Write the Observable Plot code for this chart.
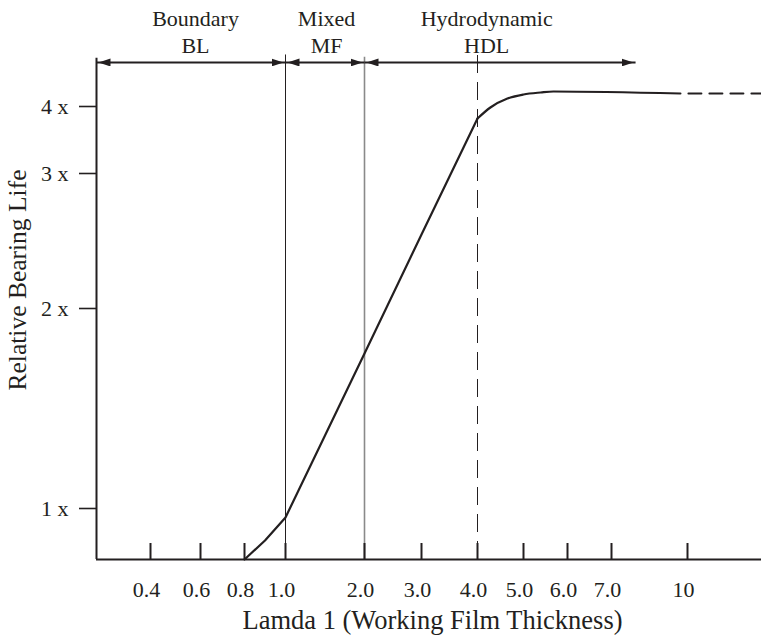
<!DOCTYPE html>
<html>
<head>
<meta charset="utf-8">
<script src="https://cdn.jsdelivr.net/npm/d3@7"></script>
<script src="https://cdn.jsdelivr.net/npm/@observablehq/plot@0.6"></script>
<style>
  body { margin: 0; background: #fff; }
</style>
</head>
<body>
<div id="chart"></div>
<script>
// ---- data ----
const xTickValues = [0.4, 0.6, 0.8, 1, 2, 3, 4, 5, 6, 7, 10];
const xTickLabels = ["0.4", "0.6", "0.8", "1.0", "2.0", "3.0", "4.0", "5.0", "6.0", "7.0", "10"];
const yTickValues = [1, 2, 3, 4];
const yTickLabels = ["1 x", "2 x", "3 x", "4 x"];

// relative bearing life vs lamda (working film thickness)
const rampLamda = [0.8, 0.9, 1.0, 2.0, 3.0, 4.0];
const rampLife  = [0.75, 0.843, 0.956, 1.775, 2.548, 3.821];
const arcLamda  = [4.0, 4.28, 4.65, 5.0, 5.39, 5.68, 9.72];
const arcLife   = [3.821, 3.985, 4.071, 4.107, 4.125, 4.134, 4.116];
const tailLamda = [9.72, 12.9];
const tailLife  = [4.116, 4.116];

// lubrication regimes
const zoneNames   = ["Boundary", "Mixed", "Hydrodynamic"];
const zoneCodes   = ["BL", "MF", "HDL"];
const zoneStart   = [0.18, 1, 2];
const zoneEnd     = [1, 2, 7.95];
const zoneLabelAt = [0.58, 1.52, 4.2];
const regimeBorders = [1, 2];
const fullFilmOnset = [4];

// axis extents
const xMin = 0.18, xMax = 12.9;
const yMin = 0.75, yMax = 4.5;
const arrowLevel = 4.393;

const ink = "#231f20";
const serif = "Liberation Serif, Times New Roman, serif";
const zi = zoneNames.map((_, i) => i);

const chart = Plot.plot({
  width: 761,
  height: 640,
  marginTop: 0,
  marginLeft: 96,
  marginRight: 0,
  marginBottom: 81,
  style: { fontFamily: serif, fontSize: "22px", color: ink, background: "#fff" },
  x: {
    type: "linear",
    domain: [xMin, ...xTickValues, xMax],
    range: [96, 150, 200, 244, 285, 364, 421, 477, 523, 567, 611, 687, 761]
  },
  y: {
    type: "linear",
    domain: [yMin, 1, 2, 3, 4, yMax],
    range: [559, 508, 308, 173, 106, 50]
  },
  marks: [
    // regime separators
    Plot.ruleX([regimeBorders[0]], { y1: yMin, y2: 4.46, stroke: ink, strokeWidth: 1 }),
    Plot.ruleX([regimeBorders[1]], { y1: yMin, y2: 4.44, stroke: "#8a8a8a", strokeWidth: 1.6 }),
    Plot.ruleX(fullFilmOnset, { y1: yMin, y2: 4.47, stroke: ink, strokeWidth: 1, strokeDasharray: "18,9" }),
    // axes lines
    Plot.ruleY([yMin], { stroke: ink, strokeWidth: 2.2 }),
    Plot.ruleX([xMin], { y1: yMin, y2: 4.43, stroke: ink, strokeWidth: 2 }),
    // y axis
    Plot.axisY({
      ticks: yTickValues,
      tickFormat: d => yTickLabels[yTickValues.indexOf(d)],
      tickSize: 17, tickPadding: 11, strokeWidth: 1.6,
      fontSize: 22, label: null
    }),
    // x axis ticks (pointing up)
    Plot.axisX({
      ticks: xTickValues,
      tickFormat: () => "",
      tickSize: -16, strokeWidth: 2, label: null
    }),
    // x axis labels
    Plot.axisX({
      ticks: xTickValues,
      tickFormat: d => xTickLabels[xTickValues.indexOf(d)],
      tickSize: 0, tickPadding: 22, dx: -4,
      fontSize: 22, label: null
    }),
    // life curve
    Plot.line(rampLamda.map((x, i) => ({ x, y: rampLife[i] })), {
      x: "x", y: "y", stroke: ink, strokeWidth: 2.2
    }),
    Plot.line(arcLamda.map((x, i) => ({ x, y: arcLife[i] })), {
      x: "x", y: "y", stroke: ink, strokeWidth: 2.2, curve: "monotone-x"
    }),
    Plot.line(tailLamda.map((x, i) => ({ x, y: tailLife[i] })), {
      x: "x", y: "y", stroke: ink, strokeWidth: 2, strokeDasharray: "13,8", strokeDashoffset: 13
    }),
    // regime arrows
    Plot.link(zi, {
      x1: i => zoneStart[i], x2: i => zoneEnd[i],
      y1: () => arrowLevel, y2: () => arrowLevel,
      stroke: ink, strokeWidth: 2
    }),
    // regime labels
    Plot.text(zi, {
      x: i => zoneLabelAt[i], text: i => zoneNames[i],
      frameAnchor: "top", lineAnchor: "top", dy: 9.5,
      fontSize: 22, fill: ink
    }),
    Plot.text(zi, {
      x: i => zoneLabelAt[i], text: i => zoneCodes[i],
      frameAnchor: "top", lineAnchor: "top", dy: 36.5,
      fontSize: 22, fill: ink
    }),
    // axis titles
    Plot.text(["Lamda 1 (Working Film Thickness)"], {
      frameAnchor: "bottom", textAnchor: "middle", lineAnchor: "top", dy: 51, dx: 3.5,
      fontSize: 26.5, fill: ink
    }),
    Plot.text(["Relative Bearing Life"], {
      frameAnchor: "left", textAnchor: "middle", lineAnchor: "top", rotate: -90, dx: -89,
      fontSize: 25.5, fill: ink
    })
  ]
});

// filled arrowheads on the regime arrows
const ns = "http://www.w3.org/2000/svg";
const defs = document.createElementNS(ns, "defs");
const marker = document.createElementNS(ns, "marker");
marker.setAttribute("id", "zone-head");
marker.setAttribute("viewBox", "0 0 14 8");
marker.setAttribute("refX", "14");
marker.setAttribute("refY", "4");
marker.setAttribute("markerWidth", "14");
marker.setAttribute("markerHeight", "8");
marker.setAttribute("markerUnits", "userSpaceOnUse");
marker.setAttribute("orient", "auto-start-reverse");
const head = document.createElementNS(ns, "path");
head.setAttribute("d", "M0,0L12,4L0,8Z");
head.setAttribute("fill", ink);
marker.appendChild(head);
defs.appendChild(marker);
chart.insertBefore(defs, chart.firstChild);
chart.querySelectorAll('g[aria-label="link"] path').forEach(p => {
  p.setAttribute("marker-start", "url(#zone-head)");
  p.setAttribute("marker-end", "url(#zone-head)");
});

document.getElementById("chart").appendChild(chart);
</script>
</body>
</html>
